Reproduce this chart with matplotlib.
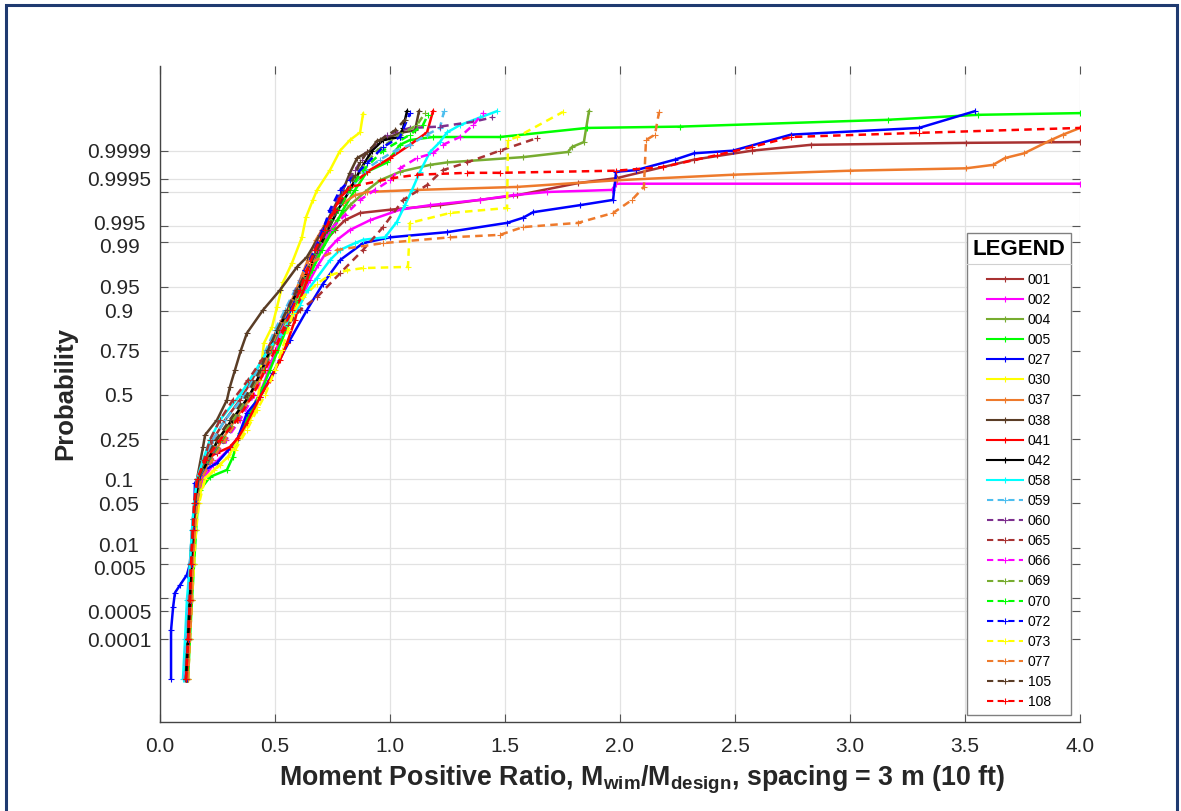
import matplotlib
matplotlib.use("Agg")
import matplotlib.pyplot as plt
import matplotlib.transforms as mtransforms
import numpy as np
from matplotlib.lines import Line2D
from matplotlib.patches import Rectangle
from statistics import NormalDist

plt.rcParams["font.family"] = ["Liberation Sans", "DejaVu Sans"]
plt.rcParams["mathtext.default"] = "regular"

# ---- series: ratio (x) vs probability (p) ----
x001 = [0.113, 0.122, 0.126, 0.135, 0.143, 0.152, 0.165, 0.196, 0.230, 0.283, 0.348, 0.400, 0.443, 0.487, 0.530, 0.578, 0.622, 0.665, 0.704, 0.761, 0.804, 0.870, 1.000, 1.217, 1.391, 1.552, 1.817, 1.987, 2.322, 2.574, 2.830, 3.504, 4.000]
p001 = [7.8e-6, 1e-4, 9e-4, 0.005, 0.020, 0.05, 0.1, 0.161, 0.247, 0.352, 0.47, 0.59, 0.703, 0.799, 0.873, 0.926, 0.960, 0.980, 0.9887, 0.9940, 0.9961, 0.9972, 0.9976, 0.99807, 0.99851, 0.99882, 0.99937, 0.99952, 0.99983, 0.99990, 0.99993, 0.999938, 0.999941]

x002 = [0.117, 0.126, 0.130, 0.139, 0.148, 0.161, 0.187, 0.230, 0.296, 0.348, 0.383, 0.422, 0.457, 0.487, 0.522, 0.565, 0.609, 0.652, 0.687, 0.730, 0.770, 0.826, 0.913, 1.043, 1.174, 1.391, 1.535, 1.683, 1.965, 1.983, 4.000]
p002 = [7.8e-6, 1e-4, 9e-4, 0.005, 0.020, 0.05, 0.1, 0.143, 0.201, 0.271, 0.352, 0.47, 0.59, 0.703, 0.799, 0.873, 0.926, 0.960, 0.976, 0.9864, 0.9909, 0.9940, 0.9961, 0.9976, 0.99807, 0.99851, 0.99882, 0.99900, 0.99910, 0.99935, 0.99935]

x004 = [0.113, 0.122, 0.130, 0.139, 0.148, 0.157, 0.170, 0.204, 0.252, 0.313, 0.378, 0.426, 0.465, 0.504, 0.548, 0.591, 0.630, 0.674, 0.717, 0.770, 0.826, 0.891, 0.957, 1.043, 1.174, 1.248, 1.578, 1.774, 1.791, 1.843, 1.865]
p004 = [7.8e-6, 1e-4, 9e-4, 0.005, 0.020, 0.05, 0.1, 0.161, 0.247, 0.352, 0.47, 0.59, 0.703, 0.799, 0.873, 0.926, 0.960, 0.980, 0.9909, 0.9961, 0.99807, 0.99900, 0.99946, 0.99966, 0.99977, 0.99980, 0.999853, 0.999892, 0.999920, 0.999941, 0.9999922]

x005 = [0.122, 0.130, 0.139, 0.148, 0.157, 0.165, 0.174, 0.217, 0.291, 0.317, 0.348, 0.391, 0.448, 0.478, 0.513, 0.548, 0.587, 0.622, 0.661, 0.704, 0.752, 0.796, 0.848, 0.900, 0.987, 1.043, 1.087, 1.187, 1.478, 1.857, 2.261, 3.165, 3.557, 4.000]
p005 = [7.8e-6, 1e-4, 9e-4, 0.005, 0.020, 0.05, 0.074, 0.106, 0.127, 0.173, 0.282, 0.392, 0.549, 0.648, 0.753, 0.839, 0.902, 0.945, 0.971, 0.9864, 0.9940, 0.9976, 0.99910, 0.99966, 0.99980, 0.999930, 0.999948, 0.999957, 0.999957, 0.999976, 0.999978, 0.999986, 0.999990, 0.9999911]

x027 = [0.048, 0.048, 0.057, 0.065, 0.087, 0.117, 0.130, 0.139, 0.148, 0.152, 0.196, 0.248, 0.335, 0.378, 0.435, 0.491, 0.565, 0.639, 0.709, 0.783, 0.883, 1.000, 1.248, 1.509, 1.578, 1.622, 1.826, 1.970, 1.983, 2.070, 2.239, 2.322, 2.491, 2.743, 3.300, 3.543]
p027 = [7.8e-6, 0.00017, 0.00062, 0.0013, 0.0019, 0.0031, 0.005, 0.009, 0.029, 0.09, 0.127, 0.150, 0.247, 0.392, 0.488, 0.631, 0.799, 0.902, 0.955, 0.980, 0.9896, 0.9918, 0.9934, 0.9956, 0.9965, 0.9973, 0.99807, 0.99851, 0.99966, 0.99969, 0.99983, 0.999883, 0.99990, 0.999963, 0.999976, 0.9999922]

x030 = [0.117, 0.126, 0.135, 0.143, 0.152, 0.165, 0.191, 0.235, 0.296, 0.348, 0.391, 0.422, 0.435, 0.443, 0.452, 0.487, 0.509, 0.535, 0.574, 0.617, 0.635, 0.665, 0.683, 0.739, 0.783, 0.826, 0.870, 0.883]
p030 = [7.8e-6, 1e-4, 9e-4, 0.005, 0.020, 0.05, 0.1, 0.127, 0.173, 0.261, 0.352, 0.428, 0.59, 0.703, 0.785, 0.850, 0.910, 0.957, 0.9778, 0.9918, 0.9966, 0.99851, 0.99910, 0.99969, 0.99990, 0.999948, 0.999968, 0.9999907]

x037 = [0.113, 0.122, 0.130, 0.139, 0.148, 0.157, 0.174, 0.217, 0.270, 0.326, 0.383, 0.426, 0.461, 0.496, 0.535, 0.574, 0.609, 0.643, 0.678, 0.717, 0.761, 0.796, 0.848, 0.900, 1.117, 1.552, 1.987, 2.491, 3.000, 3.504, 3.622, 3.674, 3.757, 3.874, 3.926, 4.000]
p037 = [7.8e-6, 1e-4, 9e-4, 0.005, 0.020, 0.05, 0.1, 0.161, 0.247, 0.352, 0.47, 0.59, 0.703, 0.799, 0.873, 0.926, 0.960, 0.980, 0.9909, 0.9952, 0.9973, 0.99825, 0.99882, 0.99900, 0.99910, 0.99923, 0.99946, 0.99960, 0.99968, 0.99972, 0.99977, 0.999845, 0.999883, 0.999948, 0.999963, 0.999976]

x038 = [0.109, 0.117, 0.126, 0.130, 0.143, 0.161, 0.187, 0.196, 0.248, 0.291, 0.304, 0.326, 0.352, 0.378, 0.448, 0.522, 0.596, 0.639, 0.696, 0.752, 0.796, 0.826, 0.857, 0.913, 0.943, 1.000, 1.043, 1.109, 1.126]
p038 = [7.8e-6, 1e-4, 9e-4, 0.005, 0.029, 0.1, 0.214, 0.271, 0.352, 0.47, 0.549, 0.648, 0.753, 0.827, 0.902, 0.945, 0.9744, 0.9822, 0.9926, 0.9976, 0.99910, 0.99964, 0.999845, 0.99990, 0.999945, 0.999957, 0.999967, 0.999972, 0.9999922]

x041 = [0.117, 0.126, 0.135, 0.139, 0.148, 0.152, 0.161, 0.187, 0.248, 0.304, 0.339, 0.378, 0.435, 0.478, 0.522, 0.552, 0.587, 0.609, 0.639, 0.665, 0.696, 0.739, 0.783, 0.835, 0.900, 1.000, 1.087, 1.161, 1.187]
p041 = [7.8e-6, 1e-4, 9e-4, 0.005, 0.020, 0.05, 0.1, 0.161, 0.189, 0.214, 0.256, 0.335, 0.488, 0.59, 0.703, 0.785, 0.873, 0.926, 0.960, 0.980, 0.9900, 0.9965, 0.99865, 0.99930, 0.99966, 0.999845, 0.999930, 0.999968, 0.9999922]

x042 = [0.113, 0.122, 0.130, 0.135, 0.143, 0.152, 0.170, 0.209, 0.252, 0.313, 0.391, 0.443, 0.478, 0.513, 0.557, 0.600, 0.643, 0.687, 0.730, 0.774, 0.826, 0.870, 0.922, 0.970, 1.043, 1.057, 1.074]
p042 = [7.8e-6, 1e-4, 9e-4, 0.005, 0.020, 0.05, 0.1, 0.161, 0.247, 0.352, 0.5, 0.648, 0.753, 0.839, 0.902, 0.945, 0.971, 0.9864, 0.9940, 0.9976, 0.99910, 0.99969, 0.99990, 0.999948, 0.999957, 0.999976, 0.9999922]

x058 = [0.100, 0.109, 0.117, 0.130, 0.139, 0.148, 0.161, 0.187, 0.217, 0.261, 0.348, 0.417, 0.470, 0.522, 0.565, 0.609, 0.643, 0.683, 0.739, 0.783, 0.848, 0.883, 0.978, 1.030, 1.065, 1.096, 1.130, 1.174, 1.217, 1.248, 1.304, 1.391, 1.465]
p058 = [7.8e-6, 1e-4, 9e-4, 0.005, 0.020, 0.05, 0.1, 0.161, 0.247, 0.352, 0.5, 0.648, 0.753, 0.819, 0.873, 0.915, 0.945, 0.963, 0.980, 0.9864, 0.9896, 0.9909, 0.9918, 0.9958, 0.99807, 0.99910, 0.99966, 0.999892, 0.999941, 0.999968, 0.999980, 0.999988, 0.9999922]

x059 = [0.104, 0.113, 0.122, 0.130, 0.139, 0.152, 0.165, 0.196, 0.230, 0.283, 0.370, 0.426, 0.461, 0.500, 0.543, 0.587, 0.630, 0.674, 0.717, 0.770, 0.826, 0.891, 0.957, 1.022, 1.087, 1.161, 1.217, 1.235]
p059 = [7.8e-6, 1e-4, 9e-4, 0.005, 0.020, 0.05, 0.1, 0.161, 0.247, 0.352, 0.5, 0.648, 0.753, 0.839, 0.902, 0.945, 0.971, 0.9864, 0.9940, 0.9976, 0.99910, 0.99969, 0.99983, 0.99990, 0.999930, 0.999963, 0.999976, 0.9999922]

x060 = [0.113, 0.122, 0.130, 0.139, 0.148, 0.157, 0.174, 0.213, 0.261, 0.322, 0.391, 0.443, 0.478, 0.513, 0.552, 0.591, 0.630, 0.670, 0.704, 0.748, 0.791, 0.848, 0.878, 0.900, 0.987, 1.087, 1.217, 1.361, 1.443]
p060 = [7.8e-6, 1e-4, 9e-4, 0.005, 0.020, 0.05, 0.1, 0.161, 0.247, 0.352, 0.5, 0.648, 0.753, 0.839, 0.902, 0.945, 0.971, 0.9864, 0.9940, 0.9976, 0.99910, 0.99969, 0.99983, 0.999892, 0.999963, 0.999976, 0.999978, 0.999984, 0.999988]

x065 = [0.113, 0.122, 0.130, 0.135, 0.143, 0.152, 0.170, 0.191, 0.217, 0.261, 0.317, 0.383, 0.443, 0.509, 0.557, 0.609, 0.683, 0.783, 0.883, 0.970, 1.057, 1.161, 1.230, 1.335, 1.478, 1.639]
p065 = [7.8e-6, 1e-4, 9e-4, 0.005, 0.020, 0.05, 0.1, 0.161, 0.247, 0.352, 0.47, 0.59, 0.703, 0.799, 0.857, 0.902, 0.932, 0.968, 0.9864, 0.9947, 0.99851, 0.99930, 0.99969, 0.99980, 0.99990, 0.999954]

x066 = [0.117, 0.126, 0.135, 0.143, 0.152, 0.161, 0.183, 0.226, 0.287, 0.348, 0.409, 0.457, 0.487, 0.522, 0.561, 0.600, 0.643, 0.687, 0.739, 0.804, 0.870, 0.935, 1.000, 1.043, 1.117, 1.187, 1.230, 1.304, 1.361, 1.404]
p066 = [7.8e-6, 1e-4, 9e-4, 0.005, 0.020, 0.05, 0.1, 0.161, 0.247, 0.352, 0.5, 0.648, 0.753, 0.839, 0.902, 0.945, 0.971, 0.9864, 0.9940, 0.9969, 0.99851, 0.99910, 0.99946, 0.99972, 0.999845, 0.999883, 0.999930, 0.999957, 0.999980, 0.9999911]

x069 = [0.113, 0.122, 0.130, 0.139, 0.148, 0.157, 0.170, 0.204, 0.257, 0.317, 0.387, 0.439, 0.474, 0.513, 0.557, 0.596, 0.635, 0.678, 0.722, 0.765, 0.813, 0.870, 0.943, 1.043, 1.117, 1.152]
p069 = [7.8e-6, 1e-4, 9e-4, 0.005, 0.020, 0.05, 0.1, 0.161, 0.247, 0.352, 0.5, 0.648, 0.753, 0.839, 0.902, 0.945, 0.971, 0.9864, 0.9940, 0.9976, 0.99910, 0.99969, 0.99990, 0.999963, 0.999980, 0.9999911]

x070 = [0.117, 0.126, 0.135, 0.143, 0.152, 0.161, 0.178, 0.222, 0.278, 0.335, 0.400, 0.452, 0.483, 0.517, 0.561, 0.600, 0.639, 0.683, 0.726, 0.774, 0.826, 0.883, 0.970, 1.087, 1.143, 1.165]
p070 = [7.8e-6, 1e-4, 9e-4, 0.005, 0.020, 0.05, 0.1, 0.161, 0.247, 0.352, 0.5, 0.648, 0.753, 0.839, 0.902, 0.945, 0.971, 0.9864, 0.9940, 0.9976, 0.99910, 0.99969, 0.99990, 0.999963, 0.999980, 0.999990]

x072 = [0.117, 0.126, 0.135, 0.139, 0.148, 0.157, 0.174, 0.226, 0.283, 0.339, 0.400, 0.448, 0.478, 0.513, 0.565, 0.600, 0.630, 0.674, 0.709, 0.739, 0.783, 0.826, 0.900, 0.970, 1.043, 1.087]
p072 = [7.8e-6, 1e-4, 9e-4, 0.005, 0.020, 0.05, 0.1, 0.161, 0.247, 0.352, 0.5, 0.648, 0.753, 0.839, 0.902, 0.945, 0.971, 0.9864, 0.9940, 0.9976, 0.99910, 0.99946, 0.99979, 0.999920, 0.999957, 0.9999911]

x073 = [0.122, 0.130, 0.139, 0.148, 0.157, 0.170, 0.196, 0.261, 0.326, 0.378, 0.422, 0.457, 0.500, 0.530, 0.557, 0.578, 0.622, 0.683, 0.739, 0.813, 0.883, 1.078, 1.087, 1.261, 1.509, 1.513, 1.552, 1.752]
p073 = [7.8e-6, 1e-4, 9e-4, 0.005, 0.020, 0.05, 0.1, 0.143, 0.201, 0.297, 0.41, 0.5, 0.648, 0.753, 0.839, 0.894, 0.932, 0.955, 0.966, 0.971, 0.9733, 0.9744, 0.9956, 0.9972, 0.99779, 0.999948, 0.999957, 0.9999918]

x077 = [0.122, 0.130, 0.139, 0.143, 0.152, 0.161, 0.178, 0.226, 0.283, 0.339, 0.400, 0.448, 0.478, 0.513, 0.557, 0.596, 0.622, 0.652, 0.770, 0.970, 1.261, 1.478, 1.578, 1.817, 1.970, 2.052, 2.104, 2.113, 2.152, 2.170]
p077 = [7.8e-6, 1e-4, 9e-4, 0.005, 0.020, 0.05, 0.1, 0.161, 0.247, 0.352, 0.5, 0.648, 0.753, 0.839, 0.902, 0.945, 0.966, 0.9778, 0.9864, 0.9896, 0.9918, 0.9926, 0.9947, 0.9956, 0.9972, 0.99851, 0.99923, 0.999948, 0.999963, 0.9999918]

x105 = [0.113, 0.122, 0.130, 0.135, 0.143, 0.152, 0.165, 0.200, 0.243, 0.304, 0.378, 0.435, 0.470, 0.509, 0.552, 0.596, 0.639, 0.683, 0.726, 0.770, 0.813, 0.848, 0.870, 0.900, 0.957, 1.022, 1.065]
p105 = [7.8e-6, 1e-4, 9e-4, 0.005, 0.020, 0.05, 0.1, 0.161, 0.247, 0.352, 0.5, 0.648, 0.753, 0.839, 0.902, 0.945, 0.971, 0.9864, 0.9940, 0.9976, 0.99910, 0.99960, 0.99980, 0.999892, 0.999948, 0.999972, 0.999986]

x108 = [0.113, 0.122, 0.130, 0.135, 0.143, 0.148, 0.161, 0.196, 0.261, 0.335, 0.404, 0.457, 0.500, 0.535, 0.574, 0.609, 0.639, 0.674, 0.717, 0.761, 0.783, 0.826, 1.013, 1.117, 1.335, 1.478, 1.983, 2.187, 2.422, 2.574, 2.743, 3.300, 4.000]
p108 = [7.8e-6, 1e-4, 9e-4, 0.005, 0.020, 0.05, 0.1, 0.161, 0.247, 0.352, 0.5, 0.648, 0.753, 0.839, 0.902, 0.945, 0.971, 0.9864, 0.9940, 0.9976, 0.99865, 0.99923, 0.99952, 0.99960, 0.99964, 0.99964, 0.99968, 0.99974, 0.99987, 0.999920, 0.999957, 0.999967, 0.999976]

labels = ["001", "002", "004", "005", "027", "030", "037", "038", "041", "042", "058",
          "059", "060", "065", "066", "069", "070", "072", "073", "077", "105", "108"]
xs = [x001, x002, x004, x005, x027, x030, x037, x038, x041, x042, x058,
      x059, x060, x065, x066, x069, x070, x072, x073, x077, x105, x108]
ps = [p001, p002, p004, p005, p027, p030, p037, p038, p041, p042, p058,
      p059, p060, p065, p066, p069, p070, p072, p073, p077, p105, p108]
colors = ["#A83232", "#FF00FF", "#77AC30", "#00FF00", "#0000FF", "#FFFF00", "#EE7A2C",
          "#5A3D26", "#FF0000", "#000000", "#00FFFF",
          "#4DBEEE", "#7E2F8E", "#A83232", "#FF00FF", "#77AC30", "#00FF00", "#0000FF",
          "#FFFF00", "#EE7A2C", "#5A3D26", "#FF0000"]
dashed = [False] * 11 + [True] * 11

prob_ticks = [0.0001, 0.0005, 0.001, 0.005, 0.01, 0.05, 0.1, 0.25, 0.5, 0.75, 0.9,
              0.95, 0.99, 0.995, 0.999, 0.9995, 0.9999]
prob_labels = ["0.0001", "0.0005", "", "0.005", "0.01", "0.05", "0.1", "0.25", "0.5",
               "0.75", "0.9", "0.95", "0.99", "0.995", "", "0.9995", "0.9999"]

_nd = NormalDist()


def _fwd(p):
    p = np.clip(np.asarray(p, dtype=float), 1e-15, 1 - 1e-15)
    return np.vectorize(_nd.inv_cdf, otypes=[float])(p)


def _inv(z):
    return np.vectorize(_nd.cdf, otypes=[float])(np.asarray(z, dtype=float))


W, H = 1181, 811
fig = plt.figure(figsize=(W / 100, H / 100), dpi=100)
ax = fig.add_axes([160 / W, 1 - 722 / H, 920 / W, 656 / H])
ax.set_yscale("function", functions=(_fwd, _inv))

for x, p, c, d, lab in zip(xs, ps, colors, dashed, labels):
    line, = ax.plot(x, p, color=c, lw=1.8, marker="+", ms=4, mew=0.8, label=lab)
    if d:
        line.set_dashes((3.0, 2.1))

ax.set_xlim(0, 4)
ax.set_ylim(3.2e-7, 1 - 2.75e-7)
ax.set_xticks(np.arange(0, 4.01, 0.5))
ax.set_xticklabels([f"{v:.1f}" for v in np.arange(0, 4.01, 0.5)])
ax.set_yticks(prob_ticks)
ax.set_yticklabels(prob_labels)
ax.yaxis.set_minor_locator(matplotlib.ticker.NullLocator())

ax.grid(True, color="#E2E2E2", lw=0.9)
ax.set_axisbelow(True)
for s in ["top", "right"]:
    ax.spines[s].set_visible(False)
for s in ["left", "bottom"]:
    ax.spines[s].set_color("#444444")
    ax.spines[s].set_linewidth(1.0)

ax.tick_params(which="both", direction="in", top=True, right=True, length=6,
               color="#555555", labelsize=15, labelcolor="#262626")
ax.tick_params(axis="y", pad=29.5)
ax.tick_params(axis="x", pad=11)

# the close pairs (0.995/0.99, 0.01/0.005) sit tight in the original; nudge apart a little
nudge = {"0.995": 2.5, "0.99": -2.5, "0.01": 2.5, "0.005": -2.5}
for t in ax.get_yticklabels():
    t.set_horizontalalignment("center")
    dy = nudge.get(t.get_text(), 0)
    if dy:
        t.set_transform(t.get_transform() + mtransforms.ScaledTranslation(0, dy / 72, fig.dpi_scale_trans))

ax.set_xlabel(r"Moment Positive Ratio, M$_{\mathregular{wim}}$/M$_{\mathregular{design}}$, spacing = 3 m (10 ft)",
              fontsize=19.3, fontweight="bold", color="#262626")
ax.set_ylabel("Probability", fontsize=18.5, fontweight="bold", color="#262626")
ax.xaxis.set_label_coords(0.524, -0.064)
ax.yaxis.set_label_coords(-0.09, 0.5)

leg = ax.legend(loc="upper left", bbox_to_anchor=(967 / W, 1 - 233 / H),
                bbox_transform=fig.transFigure, title="LEGEND", fontsize=10,
                title_fontproperties={"weight": "bold", "size": 16},
                frameon=True, fancybox=False, edgecolor="#808080", framealpha=1,
                borderaxespad=0, handlelength=2.6, handletextpad=0.35,
                labelspacing=0.44, borderpad=0.4)
leg.get_frame().set_linewidth(1.0)
leg._legend_box.sep = 9.5  # a little more room between title and entries
for h in leg.get_lines():
    h.set_linewidth(1.5)

# thin separator under the legend title, like the original
fig.canvas.draw()
tb = leg.get_title().get_window_extent()
fb = leg.get_frame().get_window_extent()
inv = fig.transFigure.inverted()
(x0, y0), (x1, _) = inv.transform([(fb.x0, tb.y0 - 4), (fb.x1, tb.y0 - 4)])
fig.add_artist(Line2D([x0, x1], [y0, y0], color="#D0D0D0", lw=0.8))

# navy page border
fig.add_artist(Rectangle((6 / W, -0.02), (1177 - 6) / W, 1 - 5 / H + 0.02,
                         transform=fig.transFigure, fill=False, ec="#1F3A70", lw=2.2,
                         clip_on=False))

fig.savefig("out.png", dpi=100)
